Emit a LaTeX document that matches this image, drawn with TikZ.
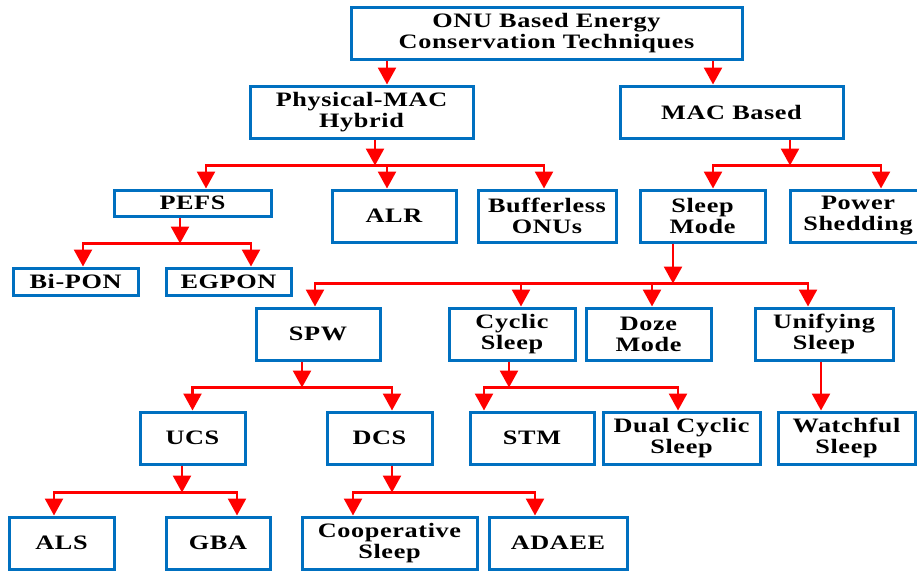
\documentclass[tikz,border=0pt]{standalone}
\usepackage{fontspec}
\setmainfont{Liberation Serif}[FakeStretch=1.28,LetterSpace=3]
\usetikzlibrary{arrows.meta}
\definecolor{boxblue}{RGB}{0,112,192}

\begin{document}
\begin{tikzpicture}[x=1pt,y=-1pt,
	box/.style={draw=boxblue,line width=3pt,align=center,inner sep=0pt,
		font=\fontsize{20.5}{21}\selectfont\bfseries,minimum height=52pt},
	arr/.style={draw=red,line width=2.5pt,-{Triangle[length=17pt,width=18pt]}}]
	\useasboundingbox (0,0) rectangle (917,571);
	% first two levels
	\node[box,minimum width=391pt] (root) at (546.5,33.5) {ONU Based Energy\\Conservation Techniques};
	\node[box,minimum width=223pt] (phy) at (361.5,112) {Physical-MAC\\Hybrid};
	\node[box,minimum width=223pt] (mac) at (731.5,112) {MAC Based};
	\node[box,minimum width=157pt,minimum height=26pt] (pefs) at (192.5,203) {PEFS};
	\node[box,minimum width=124pt] (alr) at (394,216) {ALR};
	\node[box,minimum width=138pt] (bufl) at (547,216) {Bufferless\\ONUs};
	\node[box,minimum width=125pt] (sleep) at (702.5,216) {Sleep\\Mode};
	\node[box,minimum width=136pt] (power) at (858,216) {Power\\Shedding};
	\node[box,minimum width=125pt,minimum height=27pt] (bipon) at (75.5,281.5) {Bi-PON};
	\node[box,minimum width=125pt,minimum height=27pt] (egpon) at (228.5,281.5) {EGPON};
	% sleep mode branch
	\node[box,minimum width=124pt] (spw) at (318,334) {SPW};
	\node[box,minimum width=126pt] (cyclic) at (512,334) {Cyclic\\Sleep};
	\node[box,minimum width=125pt] (doze) at (648.5,334) {Doze\\Mode};
	\node[box,minimum width=138pt] (unify) at (824,334) {Unifying\\Sleep};
	\node[box,minimum width=105pt] (ucs) at (192.5,438) {UCS};
	\node[box,minimum width=105pt] (dcs) at (379.5,438) {DCS};
	\node[box,minimum width=124pt] (stm) at (532,438) {STM};
	\node[box,minimum width=157pt] (dual) at (681.5,438) {Dual Cyclic\\Sleep};
	\node[box,minimum width=137pt] (watch) at (846.5,438) {Watchful\\Sleep};
	\node[box,minimum width=105pt] (als) at (61.5,543) {ALS};
	\node[box,minimum width=104pt] (gba) at (218,543) {GBA};
	\node[box,minimum width=175pt] (coop) at (389.5,543) {Cooperative\\Sleep};
	\node[box,minimum width=138pt] (adaee) at (558,543) {ADAEE};

	\draw[arr] ([xshift=-159.5pt]root.south) -- ([xshift=25.5pt]phy.north);
	\draw[arr] ([xshift=166.5pt]root.south) -- ([xshift=-18.5pt]mac.north);

	\draw[arr] ([xshift=13.5pt]phy.south) -- ++(0,26) coordinate (b1);
	\draw[arr] (b1) -| ([xshift=13.5pt]pefs.north);
	\draw[arr] (b1) -| ([xshift=-7pt]alr.north);
	\draw[arr] (b1) -| ([xshift=-3pt]bufl.north);

	\draw[arr] ([xshift=58.5pt]mac.south) -- ++(0,26) coordinate (b2);
	\draw[arr] (b2) -| ([xshift=10.5pt]sleep.north);
	\draw[arr] (b2) -| ([xshift=23pt]power.north);

	\draw[arr] ([xshift=-12.5pt]pefs.south) -- ++(0,26) coordinate (b3);
	\draw[arr] (b3) -| ([xshift=7.5pt]bipon.north);
	\draw[arr] (b3) -| ([xshift=22.5pt]egpon.north);

	\draw[arr] ([xshift=-29.5pt]sleep.south) -- ++(0,40) coordinate (b4);
	\draw[arr] (b4) -| ([xshift=-3pt]spw.north);
	\draw[arr] (b4) -| ([xshift=9pt]cyclic.north);
	\draw[arr] (b4) -| ([xshift=3.5pt]doze.north);
	\draw[arr] (b4) -| ([xshift=-16pt]unify.north);

	\draw[arr] ([xshift=-16pt]spw.south) -- ++(0,26) coordinate (b5);
	\draw[arr] (b5) -| (ucs.north);
	\draw[arr] (b5) -| ([xshift=12.5pt]dcs.north);

	\draw[arr] ([xshift=-3pt]cyclic.south) -- ++(0,26) coordinate (b6);
	\draw[arr] (b6) -| ([xshift=-48pt]stm.north);
	\draw[arr] (b6) -| ([xshift=-3.5pt]dual.north);

	\draw[arr] ([xshift=-3pt]unify.south) -- ([xshift=-25.5pt]watch.north);

	\draw[arr] ([xshift=-10.5pt]ucs.south) -- ++(0,27) coordinate (b7);
	\draw[arr] (b7) -| ([xshift=-7.5pt]als.north);
	\draw[arr] (b7) -| ([xshift=19pt]gba.north);

	\draw[arr] ([xshift=12.5pt]dcs.south) -- ++(0,27) coordinate (b8);
	\draw[arr] (b8) -| ([xshift=-36.5pt]coop.north);
	\draw[arr] (b8) -| ([xshift=-23pt]adaee.north);
\end{tikzpicture}
\end{document}
